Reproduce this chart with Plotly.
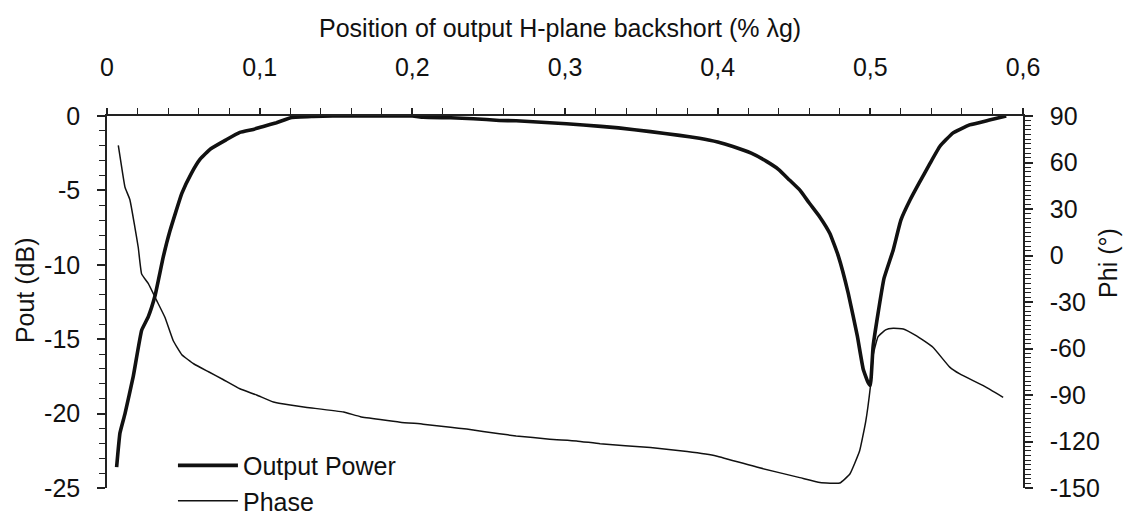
import plotly.graph_objects as go

# ---------------- data ----------------
power_x = [0.0063, 0.0085, 0.0118, 0.0172, 0.0227, 0.027, 0.0314, 0.0369, 0.0413, 0.049,
           0.055, 0.061, 0.068, 0.078, 0.087, 0.0958, 0.1024, 0.111, 0.121, 0.135,
           0.148, 0.17, 0.2, 0.207, 0.225, 0.24, 0.257, 0.268, 0.29, 0.312,
           0.335, 0.356, 0.375, 0.388, 0.40, 0.41, 0.422, 0.432, 0.44, 0.447,
           0.454, 0.46, 0.467, 0.4735, 0.479, 0.4855, 0.4915, 0.4953, 0.4985, 0.5,
           0.5018, 0.505, 0.509, 0.515, 0.52, 0.526, 0.532, 0.539, 0.5455, 0.554,
           0.565, 0.578, 0.589]
power_db = [-23.6, -21.3, -20.0, -17.5, -14.4, -13.5, -12.1, -9.45, -7.7, -5.2,
            -3.9, -2.9, -2.2, -1.6, -1.1, -0.9, -0.7, -0.45, -0.1, -0.03,
            0.0, 0.0, 0.0, -0.08, -0.12, -0.18, -0.3, -0.32, -0.45, -0.6,
            -0.8, -1.05, -1.3, -1.5, -1.75, -2.05, -2.5, -3.05, -3.6, -4.3,
            -5.0, -5.85, -6.8, -7.9, -9.4, -11.9, -14.8, -17.0, -17.9, -18.1,
            -15.5, -13.3, -10.9, -9.0, -7.0, -5.65, -4.5, -3.2, -2.05, -1.15,
            -0.6, -0.27, 0.0]

phase_x = [0.0074, 0.0096, 0.0118, 0.015, 0.0183, 0.0205, 0.0227, 0.027, 0.0325, 0.038,
           0.0434, 0.049, 0.057, 0.0665, 0.076, 0.087, 0.098, 0.109, 0.12, 0.131,
           0.155, 0.166, 0.192, 0.207, 0.225, 0.2356, 0.257, 0.268, 0.29, 0.3076,
           0.323, 0.356, 0.38, 0.399, 0.4255, 0.4538, 0.467, 0.48, 0.4866, 0.493,
           0.497, 0.5, 0.502, 0.505, 0.51, 0.515, 0.5216, 0.53, 0.541, 0.552,
           0.5586, 0.574, 0.587]
phase_deg = [71, 57, 44, 36, 18, 5, -12, -18, -29, -40,
             -55, -64, -70, -75, -80, -86, -90, -94.5, -96.5, -98,
             -101, -104, -107.5, -108.8, -110.8, -112, -115, -116.4, -118.5, -119.6,
             -121.5, -123.9, -126.5, -129.3, -136.5, -143.3, -146.5, -146.8, -141, -126,
             -107, -85, -63.5, -52.5, -48, -47, -47.4, -51.7, -59.2, -72,
             -76.4, -84, -91.5]

x_tickvals = [0, 0.1, 0.2, 0.3, 0.4, 0.5, 0.6]
x_ticktext = ["0", "0,1", "0,2", "0,3", "0,4", "0,5", "0,6"]
y_tickvals = [0, -5, -10, -15, -20, -25]
y_ticktext = ["0", "-5", "-10", "-15", "-20", "-25"]
phi_tickvals = [90, 60, 30, 0, -30, -60, -90, -120, -150]
phi_ticktext = ["90", "60", "30", "0", "-30", "-60", "-90", "-120", "-150"]

title_text = "Position of output H-plane backshort (% \u03bbg)"
ytitle_text = "Pout (dB)"
y2title_text = "Phi (\u00b0)"

# ---------------- figure ----------------
FONT = "Liberation Sans, Arial, sans-serif"
FS = 25
fig = go.Figure()
fig.add_trace(go.Scatter(x=power_x, y=power_db, mode="lines", name="Output Power",
                         line=dict(color="#111111", width=3.6, shape="spline",
                                   smoothing=0.35), yaxis="y"))
fig.add_trace(go.Scatter(x=phase_x, y=phase_deg, mode="lines", name="Phase",
                         line=dict(color="#111111", width=1.5, shape="spline",
                                   smoothing=0.35), yaxis="y2"))

fig.update_layout(
    width=1127, height=515,
    margin=dict(l=107, r=104, t=116, b=27, autoexpand=False),
    paper_bgcolor="white", plot_bgcolor="white",
    font=dict(family=FONT, size=FS, color="#111111"),
    showlegend=True,
    legend=dict(x=0.072, y=0.122, xanchor="left", yanchor="top",
                bgcolor="rgba(0,0,0,0)", font=dict(size=FS), itemwidth=60,
                tracegroupgap=0),
    xaxis=dict(side="top", range=[0, 0.6], tickvals=x_tickvals, ticktext=x_ticktext,
               showline=True, linecolor="#222222", linewidth=1.5,
               ticks="outside", ticklen=6, tickwidth=1.5, tickcolor="#222222",
               ticklabelstandoff=22,
               minor=dict(dtick=0.02, ticks="outside", ticklen=6, tickwidth=1.2,
                          tickcolor="#222222"),
               showgrid=False, zeroline=False, anchor="y"),
    yaxis=dict(range=[-25, 0], tickvals=y_tickvals, ticktext=y_ticktext,
               showline=True, linecolor="#222222", linewidth=1.5,
               ticks="outside", ticklen=8, tickwidth=1.5, tickcolor="#222222",
               ticklabelstandoff=12,
               minor=dict(dtick=1, ticks="outside", ticklen=6, tickwidth=1.2,
                          tickcolor="#222222"),
               showgrid=False, zeroline=False),
    yaxis2=dict(range=[-150, 90], tickvals=phi_tickvals, ticktext=phi_ticktext,
                overlaying="y", side="right", anchor="x",
                showline=True, linecolor="#222222", linewidth=1.5,
                ticks="outside", ticklen=8, tickwidth=1.5, tickcolor="#222222",
                ticklabelstandoff=12,
                minor=dict(dtick=3, ticks="outside", ticklen=6, tickwidth=1.2,
                           tickcolor="#222222"),
                showgrid=False, zeroline=False),
    yaxis3=dict(range=[-150, 90], tickvals=phi_tickvals, overlaying="y",
                side="right", anchor="x", showticklabels=False,
                ticks="inside", ticklen=8, tickwidth=1.5, tickcolor="#222222",
                showline=False, showgrid=False, zeroline=False),
)

fig.add_annotation(text=title_text, xref="paper", yref="paper", x=0.495, y=1.236,
                   xanchor="center", yanchor="middle", showarrow=False,
                   font=dict(size=FS))
fig.add_annotation(text=ytitle_text, xref="paper", yref="paper", x=-0.0895, y=0.532,
                   xanchor="center", yanchor="middle", showarrow=False, textangle=-90,
                   font=dict(size=FS))
fig.add_annotation(text=y2title_text, xref="paper", yref="paper", x=1.0928, y=0.605,
                   xanchor="center", yanchor="middle", showarrow=False, textangle=-90,
                   font=dict(size=FS))

# remove the browser's default 8px body margin so the figure fills the window
fig.write_html("out.html",
               config={"displayModeBar": False},
               post_script="document.body.style.margin='0px';document.body.style.padding='0px';")
